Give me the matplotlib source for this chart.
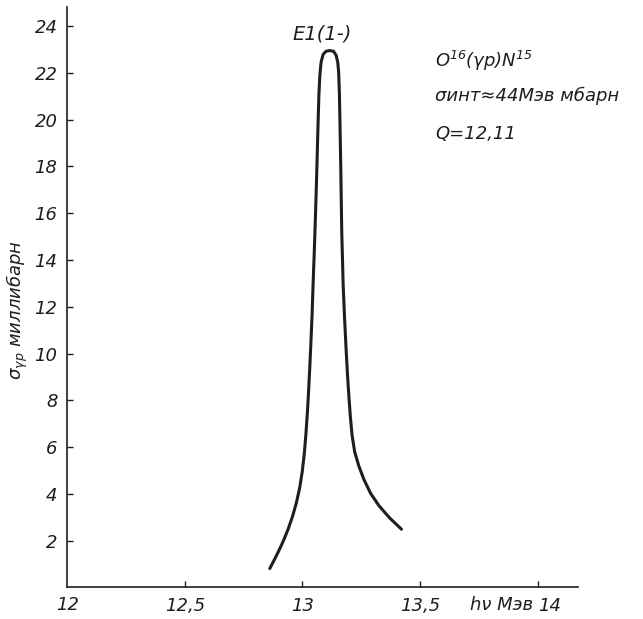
import matplotlib
matplotlib.use("Agg")
import matplotlib.pyplot as plt
import matplotlib.transforms as mtransforms

# photon energy (MeV) and cross section (mb)
energy = [12.861, 12.880, 12.900, 12.920, 12.940, 12.958, 12.974, 12.988, 12.999,
          13.008, 13.015, 13.021, 13.026, 13.031, 13.036, 13.041, 13.045, 13.050,
          13.054, 13.058, 13.061, 13.064, 13.067, 13.070, 13.074, 13.079, 13.088,
          13.100, 13.116, 13.132, 13.143, 13.150, 13.154, 13.157, 13.159, 13.161,
          13.163, 13.165, 13.167, 13.170, 13.173, 13.179, 13.186, 13.192, 13.198,
          13.204, 13.211, 13.222, 13.240, 13.262, 13.290, 13.325, 13.370, 13.421]
sigma = [0.81, 1.18, 1.58, 2.02, 2.52, 3.05, 3.62, 4.25, 4.95,
         5.75, 6.60, 7.50, 8.40, 9.40, 10.50, 11.70, 12.94, 14.30,
         15.50, 16.80, 17.85, 19.00, 20.10, 21.10, 21.90, 22.45, 22.79,
         22.92, 22.95, 22.92, 22.75, 22.45, 22.00, 21.10, 20.10, 19.00,
         17.85, 16.50, 15.20, 14.10, 12.94, 11.50, 10.09, 9.00, 8.07,
         7.25, 6.50, 5.80, 5.18, 4.60, 4.02, 3.50, 2.98, 2.49]

x_ticks = [12.5, 13, 13.5, 14]
x_labels = ["12,5", "13", "13,5", "14"]
y_ticks = [2, 4, 6, 8, 10, 12, 14, 16, 18, 20, 22, 24]

plt.rcParams["font.family"] = ["DejaVu Sans"]
plt.rcParams["font.style"] = "oblique"
plt.rcParams["mathtext.fontset"] = "dejavusans"
plt.rcParams["mathtext.default"] = "it"

ink = "#1e1e1e"
fs = 13

fig = plt.figure(figsize=(6.43, 6.19), dpi=100)
ax = fig.add_axes([0.1047, 0.0509, 0.8994 - 0.1047, 0.9882 - 0.0509])

ax.plot(energy, sigma, color=ink, lw=2.2, solid_capstyle="round", solid_joinstyle="round")

ax.set_xlim(12, 14.173)
ax.set_ylim(0, 24.8)
for s in ["top", "right"]:
    ax.spines[s].set_visible(False)
for s in ["left", "bottom"]:
    ax.spines[s].set_linewidth(1.2)
    ax.spines[s].set_color(ink)

ax.set_xticks(x_ticks)
ax.set_xticklabels(x_labels)
ax.set_yticks(y_ticks)
ax.tick_params(direction="in", length=4.5, width=1.0, color=ink, labelcolor=ink,
               labelsize=fs, pad=7)

# "14" sits a little right of its tick in the original
lab14 = ax.get_xticklabels()[-1]
lab14.set_transform(lab14.get_transform() + mtransforms.ScaledTranslation(12 / 100, 0, fig.dpi_scale_trans))

# label for the origin
t12 = ax.text(12, 0, "12", ha="center", va="top", fontsize=fs, color=ink, clip_on=False)
t12.set_transform(ax.transData + mtransforms.ScaledTranslation(0, -9 / 100, fig.dpi_scale_trans))

fig.text(502 / 643, 1 - 605 / 619, "hν Мэв", ha="center", va="center", fontsize=fs, color=ink)
fig.text(17 / 643, 1 - 310 / 619, r"σ$_{γp}$ миллибарн", rotation=90, ha="center", va="center",
         fontsize=fs, color=ink)

ax.text(13.085, 23.65, "E1(1-)", ha="center", va="center", fontsize=fs + 1, color=ink)

ax.text(13.564, 22.5, r"O$^{16}$(γp)N$^{15}$", ha="left", va="center", fontsize=fs, color=ink)
ax.text(13.564, 21.0, "σинт≈44Мэв мбарн", ha="left", va="center", fontsize=fs, color=ink)
ax.text(13.564, 19.4, "Q=12,11", ha="left", va="center", fontsize=fs, color=ink)

fig.savefig("out.png", dpi=100)
